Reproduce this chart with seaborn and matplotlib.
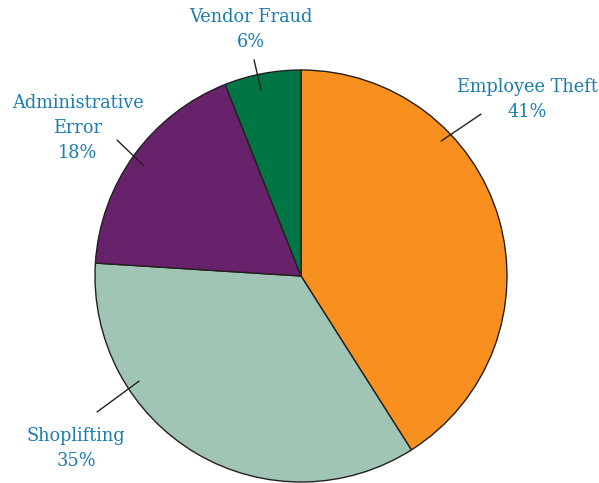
import matplotlib
matplotlib.use("Agg")
import matplotlib.pyplot as plt
import seaborn as sns
import numpy as np

categories = ["Employee Theft", "Shoplifting", "Administrative\nError", "Vendor Fraud"]
shares = [41, 35, 18, 6]

colors = ["#F7901E", "#A0C5B4", "#68216B", "#007545"]
text_color = "#1C7DB1"

sns.set_theme(style="white")
plt.rcParams['font.family'] = ['DejaVu Serif']

fig = plt.figure(figsize=(5.99, 4.83), dpi=100)
R = 206.0
cx, cy = 301.0, 276.0
ax = fig.add_axes([0, 0, 1, 1])
ax.pie(shares, colors=colors, startangle=90, counterclock=False,
       wedgeprops=dict(edgecolor="#231F20", linewidth=1.0))
ax.set_xlim(-cx / R, (599 - cx) / R)
ax.set_ylim(-(483 - cy) / R, cy / R)
ax.set_aspect("equal")
ax.axis("off")

# label layout: (leader start, leader end, text position)
layout = [
    ((0.680, 0.655), (0.874, 0.786), (1.097, 0.855)),
    ((-0.786, -0.510), (-0.990, -0.660), (-1.092, -0.835)),
    ((-0.762, 0.534), (-0.893, 0.660), (-1.083, 0.718)),
    ((-0.194, 0.903), (-0.228, 1.049), (-0.243, 1.197)),
]
for cat, val, (p0, p1, tp) in zip(categories, shares, layout):
    ax.plot([p0[0], p1[0]], [p0[1], p1[1]], color="#231F20", lw=1.0)
    ax.text(tp[0], tp[1], f"{cat}\n{val}%", ha="center", va="center",
            color=text_color, fontsize=12.8, linespacing=1.5)

fig.savefig("out.png", dpi=100)
